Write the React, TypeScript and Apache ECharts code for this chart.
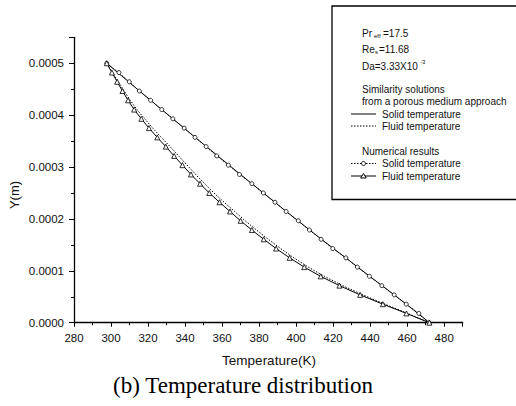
import React, { useEffect, useRef } from "react";
import * as echarts from "echarts";

// Y positions (m) at which values are given (from bottom to top)
const yValues = [
  0, 0.0000179, 0.0000357, 0.0000536, 0.0000714, 0.0000893, 0.0001071, 0.000125,
  0.0001429, 0.0001607, 0.0001786, 0.0001964, 0.0002143, 0.0002321, 0.00025,
  0.0002679, 0.0002857, 0.0003036, 0.0003214, 0.0003393, 0.0003571, 0.000375,
  0.0003929, 0.0004107, 0.0004286, 0.0004464, 0.0004643, 0.0004821, 0.0005,
];

// Similarity solutions (porous medium approach)
const simSolidT = [
  472.0, 465.8, 459.5, 453.0, 446.4, 439.8, 433.3, 426.8, 420.2, 413.7, 407.3,
  401.0, 394.7, 388.5, 382.3, 376.1, 369.9, 363.8, 357.7, 351.6, 345.5, 339.5,
  333.4, 327.4, 321.4, 315.4, 309.5, 303.6, 297.7,
];
const simFluidT = [
  472.0, 460.2, 448.0, 436.1, 425.2, 415.3, 406.6, 398.8, 391.6, 385.0, 378.6,
  372.5, 366.8, 361.1, 355.6, 350.6, 345.7, 341.1, 336.5, 331.9, 327.2, 322.5,
  318.2, 314.0, 310.4, 307.1, 303.9, 300.8, 297.7,
];

// Numerical results
const numSolidT = [
  471.9, 466.3, 459.5, 453.0, 446.3, 439.6, 433.1, 426.9, 419.8, 413.5, 407.2,
  401.2, 394.6, 388.6, 382.3, 376.1, 369.4, 363.4, 357.1, 351.4, 345.4, 339.5,
  333.4, 327.4, 321.4, 315.3, 309.9, 304.3, 297.7,
];
const numFluidT = [
  472.0, 459.6, 446.9, 434.6, 423.4, 413.3, 404.4, 396.5, 389.2, 382.5, 376.1,
  370.0, 364.3, 358.6, 353.1, 348.1, 343.2, 338.6, 334.1, 329.6, 325.0, 320.5,
  316.4, 312.5, 309.2, 306.2, 303.3, 300.5, 297.7,
];

const xTitle = "Temperature(K)";
const yTitle = "Y(m)";
const caption = "(b) Temperature distribution";

const SANS = "'Liberation Sans', Arial, sans-serif";
const SERIF = "'Liberation Serif', 'Times New Roman', serif";

const pairs = (ts: number[]) => ts.map((t, i) => [t, yValues[i]]);

export default function App() {
  const ref = useRef<HTMLDivElement>(null);
  useEffect(() => {
    if (!ref.current) return;
    const chart = echarts.init(ref.current, undefined, { renderer: "svg" });
    const lx = 362;
    const s0 = 351;
    const s1 = 376;
    const sx = 382;
    const txt = (x: number, y: number, text: string, size = 10) => ({
      type: "text",
      x,
      y,
      style: { text, fontFamily: SANS, fontSize: size, fill: "#111", textVerticalAlign: "middle" },
    });
    const seg = (y: number, dash?: number[]) => ({
      type: "line",
      shape: { x1: s0, y1: y, x2: s1, y2: y },
      style: { stroke: "#000", lineWidth: 1, lineDash: dash },
    });
    const mid = (s0 + s1) / 2;
    const legend: any[] = [
      {
        type: "rect",
        shape: { x: 332, y: 6, width: 200, height: 193.5 },
        style: { fill: "#fff", stroke: "#000", lineWidth: 1.3 },
      },
      txt(lx, 33, "Pr"),
      txt(lx + 12, 36, "eff", 6),
      txt(lx + 21, 33, "=17.5"),
      txt(lx, 49, "Re"),
      txt(lx + 13, 52, "s", 6),
      txt(lx + 17, 49, "=11.68"),
      txt(lx, 66, "Da=3.33X10"),
      txt(lx + 58, 62, "-3", 6),
      txt(lx, 89, "Similarity solutions"),
      txt(lx, 101, "from a porous medium approach"),
      seg(114),
      txt(sx, 114, "Solid temperature"),
      seg(126, [1.5, 1.5]),
      txt(sx, 126, "Fluid temperature"),
      txt(lx, 151, "Numerical results"),
      seg(163.5, [1.5, 1.5]),
      {
        type: "circle",
        shape: { cx: mid, cy: 163.5, r: 2 },
        style: { fill: "#fff", stroke: "#000", lineWidth: 1 },
      },
      txt(sx, 163.5, "Solid temperature"),
      seg(176),
      {
        type: "polygon",
        shape: { points: [[mid, 173.5], [mid + 2.8, 178], [mid - 2.8, 178]] },
        style: { fill: "#fff", stroke: "#000", lineWidth: 1 },
      },
      txt(sx, 176, "Fluid temperature"),
      {
        type: "text",
        x: 14,
        y: 195,
        rotation: Math.PI / 2,
        style: {
          text: yTitle,
          fontFamily: SANS,
          fontSize: 13,
          fill: "#111",
          textAlign: "center",
          textVerticalAlign: "middle",
        },
      },
      {
        type: "text",
        x: 269,
        y: 360,
        style: {
          text: xTitle,
          fontFamily: SANS,
          fontSize: 13.5,
          fill: "#111",
          textAlign: "center",
          textVerticalAlign: "middle",
        },
      },
      {
        type: "text",
        x: 243,
        y: 385,
        style: {
          text: caption,
          fontFamily: SERIF,
          fontSize: 23,
          fill: "#000",
          textAlign: "center",
          textVerticalAlign: "middle",
        },
      },
    ];

    chart.setOption({
      animation: false,
      backgroundColor: "#fff",
      grid: { left: 74, right: 53.3, top: 37.3, bottom: 83.3 },
      xAxis: {
        type: "value",
        min: 280,
        max: 490,
        interval: 20,
        axisLine: { onZero: false, lineStyle: { color: "#000", width: 1.3 } },
        axisTick: { length: 4, lineStyle: { color: "#000" } },
        minorTick: { show: true, splitNumber: 2, length: 2.5, lineStyle: { color: "#000" } },
        splitLine: { show: false },
        axisLabel: {
          showMaxLabel: false,
          color: "#111",
          fontFamily: SANS,
          fontSize: 11.5,
          margin: 9,
        },
      },
      yAxis: {
        type: "value",
        min: 0,
        max: 0.00055,
        interval: 0.0001,
        axisLine: { show: true, onZero: false, lineStyle: { color: "#000", width: 1.3 } },
        axisTick: { show: true, length: 5, lineStyle: { color: "#000" } },
        minorTick: { show: true, splitNumber: 2, length: 3, lineStyle: { color: "#000" } },
        splitLine: { show: false },
        axisLabel: {
          showMaxLabel: false,
          color: "#111",
          fontFamily: SANS,
          fontSize: 11.5,
          margin: 10,
          formatter: (v: number) => v.toFixed(4),
        },
      },
      series: [
        {
          name: "Similarity solid",
          type: "line",
          data: pairs(simSolidT),
          showSymbol: false,
          lineStyle: { color: "#000", width: 1 },
        },
        {
          name: "Similarity fluid",
          type: "line",
          data: pairs(simFluidT),
          showSymbol: false,
          lineStyle: { color: "#000", width: 1, type: [1.5, 1.5] },
        },
        {
          name: "Numerical solid",
          type: "line",
          data: pairs(numSolidT),
          symbol: "circle",
          symbolSize: 4,
          itemStyle: { color: "#fff", borderColor: "#000", borderWidth: 0.8 },
          lineStyle: { color: "#000", width: 0.8, type: [1.5, 1.5] },
        },
        {
          name: "Numerical fluid",
          type: "line",
          data: pairs(numFluidT),
          symbol: "triangle",
          symbolSize: 5,
          itemStyle: { color: "#fff", borderColor: "#000", borderWidth: 0.8 },
          lineStyle: { color: "#000", width: 1 },
        },
      ],
      graphic: legend,
    });
    return () => chart.dispose();
  }, []);
  return (
    <div
      ref={ref}
      style={{ position: "absolute", left: 0, top: 0, width: 516, height: 406, background: "#fff" }}
    />
  );
}
